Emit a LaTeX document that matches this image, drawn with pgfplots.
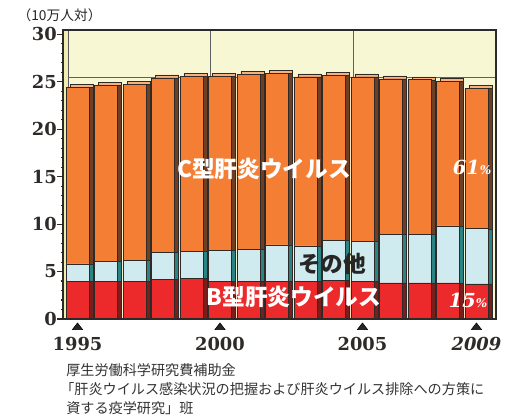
\documentclass[border=0pt]{standalone}
\usepackage{pgfplots}
\pgfplotsset{compat=1.18}
\usepackage{pgfplotstable}
\usepackage{fontspec}
\setmainfont{DejaVu Serif}
\newfontfamily\jp{Noto Sans CJK JP}
\definecolor{cRed}{HTML}{EC2A2B}
\definecolor{cBlue}{HTML}{CFEBEF}
\definecolor{cOrange}{HTML}{F47E34}
\definecolor{sRed}{HTML}{7A1D1D}
\definecolor{sBlue}{HTML}{2B8384}
\definecolor{sOrange}{HTML}{6E3F24}
\definecolor{tOrange}{HTML}{F9B07C}
\definecolor{wall}{HTML}{F7F7D3}
\definecolor{wallside}{HTML}{EFEDB0}
\definecolor{edge}{HTML}{2E2A28}

\pgfplotstableread{
x B O C T
0 4.0 1.8 18.6 24.4
1 4.0 2.1 18.5 24.6
2 4.0 2.15 18.55 24.7
3 4.2 2.8 18.4 25.4
4 4.3 2.8 18.5 25.6
5 4.0 3.2 18.4 25.6
6 4.0 3.3 18.5 25.8
7 4.0 3.8 18.1 25.9
8 4.0 3.7 17.8 25.5
9 4.1 4.2 17.4 25.7
10 4.0 4.2 17.3 25.5
11 3.8 5.1 16.4 25.3
12 3.8 5.1 16.3 25.2
13 3.8 6.0 15.2 25.0
14 3.7 5.8 14.8 24.3
}\data

\pgfplotsset{mybase/.style={
  scale only axis, width=324.75pt, height=216.75pt,
  xmin=-0.509, xmax=14.686, ymin=0, ymax=30.45,
  anchor=south west, bar width=0.807,
}}

\begin{document}
\begin{tikzpicture}
\useasboundingbox (0,0) rectangle (390.75pt,312.75pt);
% background wall
\begin{axis}[mybase, at={(47.25pt,73.5pt)},
  axis line style={draw=none}, xtick=\empty, ytick=\empty,
  axis background/.style={fill=wall}, clip=false]
\fill[wallside] (axis cs:-0.509,0) rectangle (axis cs:-0.334,30.45);
\draw[gray!70!black, line width=0.5pt] (axis cs:-0.334,0.3) -- (axis cs:-0.334,30.45);
\draw[gray!75!black, line width=0.7pt] (axis cs:-0.334,25.45) -- (axis cs:14.686,25.45);
\draw[gray!75!black, line width=0.7pt] (axis cs:4.67,0) -- (axis cs:4.67,30.45);
\draw[gray!75!black, line width=0.7pt] (axis cs:9.67,0) -- (axis cs:9.67,30.45);
\addplot[only marks, mark=triangle*, mark size=4.4pt,
  mark options={fill=black!85, draw=none, yscale=0.75}]
  coordinates {(0,-0.88) (5,-0.88) (10,-0.88) (14,-0.88)};
\end{axis}
% top faces
\begin{axis}[mybase, at={(50.25pt,75.75pt)}, hide axis, ybar]
\addplot[fill=tOrange, draw=edge, line width=0.4pt] table[x=x,y=T]{\data};
\end{axis}
% side faces
\begin{axis}[mybase, at={(50.25pt,73.5pt)}, hide axis, ybar stacked]
\addplot[fill=sRed, draw=edge, line width=0.4pt] table[x=x,y=B]{\data};
\addplot[fill=sBlue, draw=edge, line width=0.4pt] table[x=x,y=O]{\data};
\addplot[fill=sOrange, draw=edge, line width=0.4pt] table[x=x,y=C]{\data};
\end{axis}
% front
\begin{axis}[mybase, at={(47.25pt,73.5pt)}, ybar stacked,
  axis on top, axis line style={draw=edge, line width=0.9pt},
  xtick={0,5,10,14}, xticklabels={1995,2000,2005,{\itshape 2009}},
  xtick pos=bottom, ytick pos=left,
  x tick style={draw=none},
  ytick={0,5,...,30}, minor y tick num=4, tick align=outside,
  y tick style={draw=edge, line width=0.8pt},
  major tick length=4.5pt, minor tick length=1.8pt,
  /pgf/number format/assume math mode=true,
  xticklabel style={font=\bfseries\fontsize{13.4}{14}\selectfont, inner sep=0pt, yshift=-9pt, text=edge},
  yticklabel style={font=\bfseries\fontsize{13.4}{14}\selectfont, inner sep=0pt, text=edge},
]
\addplot[fill=cRed, draw=edge, line width=0.5pt] table[x=x,y=B]{\data};
\addplot[fill=cBlue, draw=edge, line width=0.5pt] table[x=x,y=O]{\data};
\addplot[fill=cOrange, draw=edge, line width=0.5pt] table[x=x,y=C]{\data};
\end{axis}
% labels
\node[text=white, font=\jp\bfseries\fontsize{17}{20}\selectfont] at (198pt,186pt) {C型肝炎ウイルス};
\node[text=black!85, font=\jp\bfseries\fontsize{17}{20}\selectfont] at (249pt,114.75pt) {その他};
\node[text=white, font=\jp\bfseries\fontsize{17}{20}\selectfont] at (220.5pt,90pt) {B型肝炎ウイルス};
\node[text=white, font=\bfseries\itshape\fontsize{14.5}{16}\selectfont] at (354pt,187.5pt) {61{\fontsize{9}{10}\selectfont\%}};
\node[text=white, font=\bfseries\itshape\fontsize{14.5}{16}\selectfont] at (351pt,87.75pt) {15{\fontsize{9}{10}\selectfont\%}};
\node[anchor=west, inner sep=0pt, text=black!85, font=\jp\fontsize{10.3}{12}\selectfont] at (13pt,301.5pt) {（10万人対）};
\node[anchor=west, inner sep=0pt, text=black!80, font=\jp\fontsize{10.6}{12}\selectfont] at (49.5pt,35pt) {厚生労働科学研究費補助金};
\node[anchor=west, inner sep=0pt, text=black!80, font=\jp\fontsize{10.6}{12}\selectfont] at (45pt,21pt) {「肝炎ウイルス感染状況の把握および肝炎ウイルス排除への方策に};
\node[anchor=west, inner sep=0pt, text=black!80, font=\jp\fontsize{10.6}{12}\selectfont] at (49.5pt,7pt) {資する疫学研究」班};
\end{tikzpicture}
\end{document}
